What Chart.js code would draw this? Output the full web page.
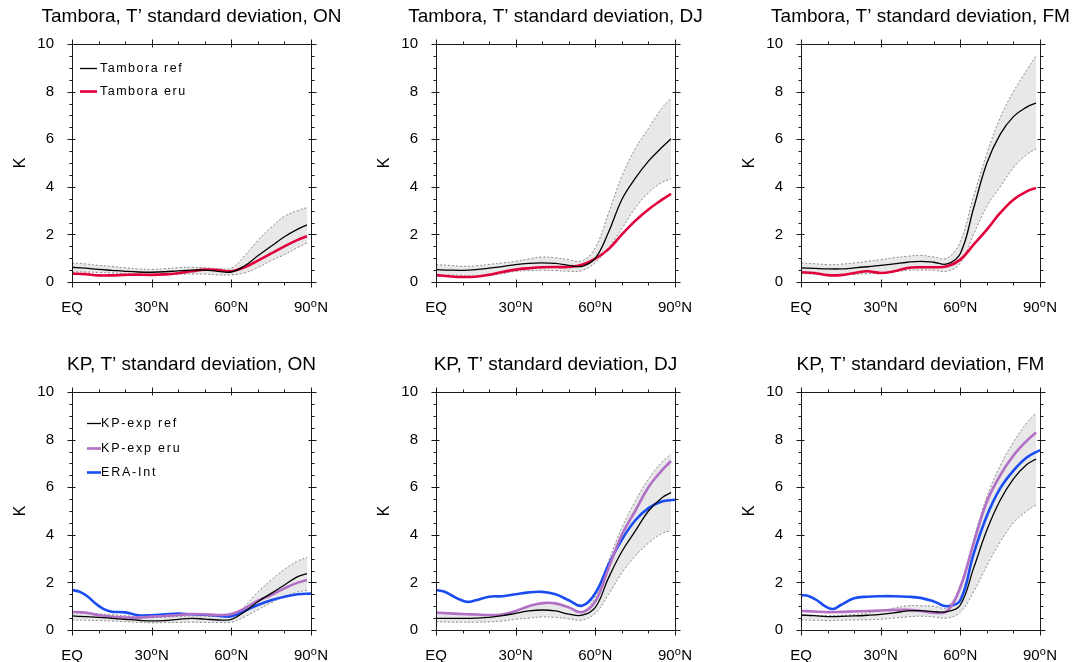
<!DOCTYPE html>
<html>
<head>
<meta charset="utf-8">
<script src="https://cdn.jsdelivr.net/npm/chart.js@4/dist/chart.umd.min.js"></script>
<style>
  html, body { margin: 0; padding: 0; background: #fff; overflow: hidden; width: 1089px; height: 662px; }
  canvas { position: absolute; }
</style>
</head>
<body>
<canvas id="p0" width="363" height="330" style="left:0px;top:0px"></canvas>
<canvas id="p1" width="363" height="330" style="left:364px;top:0px"></canvas>
<canvas id="p2" width="363" height="330" style="left:729px;top:0px"></canvas>
<canvas id="p3" width="363" height="330" style="left:0px;top:348px"></canvas>
<canvas id="p4" width="363" height="330" style="left:364px;top:348px"></canvas>
<canvas id="p5" width="363" height="330" style="left:729px;top:348px"></canvas>
<script>
// Latitude grids (degrees N)
const latModel = [0, 5, 10, 15, 20, 25, 30, 35, 40, 45, 50, 55, 60, 65, 70, 75, 80, 85, 88.5];
const latEra   = [0, 3, 6, 9, 12, 15, 20, 25, 30, 35, 40, 45, 50, 55, 60, 65, 70, 75, 80, 85, 90];

// Tambora, ON
const tamOnRef = [0.62,0.58,0.53,0.49,0.45,0.42,0.41,0.43,0.47,0.50,0.50,0.45,0.42,0.68,1.10,1.50,1.90,2.22,2.40];
const tamOnEru = [0.35,0.33,0.28,0.28,0.30,0.31,0.30,0.32,0.37,0.45,0.52,0.50,0.45,0.62,0.90,1.20,1.50,1.77,1.92];
const tamOnHi  = [0.80,0.76,0.70,0.65,0.60,0.55,0.53,0.56,0.60,0.62,0.60,0.56,0.58,1.10,1.75,2.30,2.76,3.00,3.13];
const tamOnLo  = [0.43,0.42,0.40,0.38,0.35,0.32,0.30,0.32,0.33,0.33,0.33,0.30,0.30,0.38,0.60,0.90,1.15,1.45,1.64];

// Tambora, DJ
const tamDjRef = [0.52,0.50,0.49,0.52,0.58,0.65,0.73,0.78,0.80,0.78,0.70,0.66,1.00,2.10,3.47,4.35,5.08,5.65,6.02];
const tamDjEru = [0.29,0.24,0.21,0.22,0.30,0.42,0.52,0.58,0.62,0.63,0.63,0.72,0.98,1.38,2.00,2.57,3.05,3.45,3.70];
const tamDjHi  = [0.73,0.70,0.66,0.68,0.74,0.80,0.87,0.97,1.05,1.02,0.94,0.88,1.45,2.90,4.45,5.60,6.45,7.30,7.72];
const tamDjLo  = [0.31,0.29,0.27,0.26,0.28,0.35,0.45,0.48,0.49,0.48,0.45,0.48,0.82,1.45,2.25,3.10,3.75,4.18,4.33];

// Tambora, FM
const tamFmRef = [0.59,0.57,0.55,0.55,0.59,0.64,0.70,0.76,0.83,0.87,0.83,0.76,1.20,3.10,5.00,6.20,6.95,7.35,7.52];
const tamFmEru = [0.41,0.38,0.29,0.29,0.38,0.45,0.38,0.45,0.59,0.62,0.62,0.66,0.94,1.57,2.20,2.90,3.46,3.81,3.95];
const tamFmHi  = [0.80,0.77,0.73,0.75,0.80,0.87,0.94,1.02,1.08,1.12,1.05,1.00,1.70,3.60,5.40,6.90,8.00,8.90,9.50];
const tamFmLo  = [0.35,0.33,0.30,0.30,0.32,0.35,0.38,0.43,0.49,0.50,0.49,0.45,0.80,2.00,3.18,4.00,4.80,5.35,5.60];

// KP, ON
const kpOnRef = [0.59,0.56,0.53,0.49,0.45,0.41,0.38,0.40,0.45,0.49,0.46,0.42,0.45,0.77,1.19,1.54,1.89,2.24,2.37];
const kpOnEru = [0.77,0.73,0.63,0.56,0.52,0.52,0.56,0.59,0.63,0.67,0.66,0.63,0.67,0.91,1.23,1.47,1.75,1.99,2.10];
const kpOnHi  = [0.72,0.70,0.68,0.64,0.60,0.55,0.52,0.54,0.57,0.59,0.58,0.56,0.55,1.00,1.60,2.10,2.55,2.90,3.05];
const kpOnLo  = [0.42,0.41,0.40,0.38,0.35,0.32,0.30,0.31,0.32,0.33,0.32,0.32,0.33,0.55,0.85,1.15,1.40,1.60,1.66];
const kpOnEra = [1.68,1.60,1.40,1.10,0.88,0.77,0.74,0.62,0.62,0.66,0.69,0.66,0.64,0.60,0.58,0.80,1.05,1.25,1.40,1.50,1.53];

// KP, DJ
const kpDjRef = [0.49,0.49,0.49,0.50,0.53,0.60,0.70,0.80,0.84,0.80,0.67,0.62,0.95,2.20,3.30,4.15,5.00,5.55,5.77];
const kpDjEru = [0.73,0.70,0.67,0.65,0.63,0.65,0.80,1.00,1.13,1.12,0.95,0.75,1.20,2.60,4.00,5.00,6.00,6.70,7.10];
const kpDjHi  = [0.72,0.70,0.68,0.66,0.65,0.68,0.80,1.00,1.10,1.10,0.95,0.78,1.40,2.90,4.30,5.40,6.35,7.05,7.40];
const kpDjLo  = [0.35,0.33,0.33,0.33,0.34,0.38,0.45,0.50,0.55,0.53,0.47,0.42,0.70,1.50,2.40,3.10,3.65,4.05,4.17];
const kpDjEra = [1.68,1.62,1.45,1.28,1.18,1.25,1.40,1.42,1.50,1.58,1.60,1.50,1.25,1.02,1.55,2.75,3.80,4.60,5.12,5.40,5.47];

// KP, FM
const kpFmRef = [0.63,0.60,0.56,0.57,0.59,0.62,0.66,0.72,0.80,0.81,0.77,0.77,1.05,2.60,4.20,5.45,6.35,6.95,7.18];
const kpFmEru = [0.80,0.78,0.75,0.76,0.78,0.80,0.82,0.84,0.85,0.80,0.73,0.80,1.80,3.65,5.40,6.50,7.33,7.95,8.30];
const kpFmHi  = [0.62,0.61,0.60,0.62,0.65,0.72,0.80,0.92,1.02,1.02,1.00,0.95,1.90,3.80,5.60,6.90,7.90,8.70,9.12];
const kpFmLo  = [0.42,0.41,0.40,0.41,0.42,0.43,0.45,0.50,0.55,0.58,0.55,0.50,0.75,1.60,2.70,3.70,4.50,5.00,5.25];
const kpFmEra = [1.47,1.42,1.25,1.00,0.88,1.05,1.33,1.40,1.42,1.42,1.40,1.35,1.20,1.00,1.25,3.20,4.80,5.95,6.70,7.25,7.56];

// Axis settings
const latMin = 0, latMax = 90, latMajor = 30, latMinor = 10;
const kMin = 0, kMax = 10, kMajor = 2, kMinor = 0.5;

const FONT = "'Liberation Sans', Arial, Helvetica, 'DejaVu Sans', sans-serif";
const COL_REF = '#000000';
const COL_TAM_ERU = '#e2003c';
const COL_KP_ERU = '#b26fc6';
const COL_ERA = '#1a4cf2';
const COL_BAND = '#e8e8e8';
const COL_BAND_EDGE = '#8a8a8a';

function pts(lat, vals) { return vals.map((v, i) => ({ x: lat[i], y: v })); }

function lineSet(label, lat, vals, color, width) {
  return { label, data: pts(lat, vals), borderColor: color, borderWidth: width,
           pointRadius: 0, fill: false, tension: 0.4 };
}
function bandEdge(lat, vals, fill) {
  return { label: '', data: pts(lat, vals), borderColor: COL_BAND_EDGE, borderWidth: 1,
           borderDash: [2, 2], pointRadius: 0, fill: fill, backgroundColor: COL_BAND,
           tension: 0.4 };
}

// Box frame with tick marks on all four sides, plus latitude labels and panel title
const frame = {
  id: 'frame',
  afterDraw(chart, args, opts) {
    const { ctx, chartArea: a, scales: { x, y } } = chart;
    const L = Math.round(a.left) + 0.5, R = Math.round(a.right) + 0.5;
    const T = Math.round(a.top) + 0.5, B = Math.round(a.bottom) + 0.5;
    ctx.save();
    ctx.strokeStyle = '#1a1a1a';
    ctx.lineWidth = 1;
    ctx.strokeRect(L, T, R - L, B - T);
    ctx.beginPath();
    for (let v = latMin; v <= latMax + 1e-6; v += latMinor) {
      const px = Math.round(x.getPixelForValue(v)) + 0.5;
      const major = Math.abs(v % latMajor) < 1e-6;
      const out = major ? 5 : 3, inn = major ? 3 : 0;
      ctx.moveTo(px, B + out); ctx.lineTo(px, B - inn);
      ctx.moveTo(px, T - out); ctx.lineTo(px, T + inn);
    }
    for (let v = kMin; v <= kMax + 1e-6; v += kMinor) {
      const py = Math.round(y.getPixelForValue(v)) + 0.5;
      const major = Math.abs(v % kMajor) < 1e-6;
      const out = major ? 5 : 3, inn = major ? 3 : 0;
      ctx.moveTo(L - out, py); ctx.lineTo(L + inn, py);
      ctx.moveTo(R + out, py); ctx.lineTo(R - inn, py);
    }
    ctx.stroke();

    // latitude labels: EQ, 30°N ... with a raised small "o"
    ctx.fillStyle = '#000';
    ctx.textBaseline = 'alphabetic';
    ctx.textAlign = 'left';
    const big = '15px ' + FONT, small = '11px ' + FONT;
    const base = a.bottom + 30;
    x.ticks.forEach(t => {
      const px = x.getPixelForValue(t.value);
      if (t.value === 0) {
        ctx.font = big;
        const w = ctx.measureText('EQ').width;
        ctx.fillText('EQ', px - w / 2, base);
        return;
      }
      const num = String(t.value);
      ctx.font = big;
      const wNum = ctx.measureText(num).width, wN = ctx.measureText('N').width;
      ctx.font = small;
      const wO = ctx.measureText('o').width + 0.6;
      let cx = px - (wNum + wO + wN) / 2;
      ctx.font = big; ctx.fillText(num, cx, base); cx += wNum;
      ctx.font = small; ctx.fillText('o', cx + 0.2, base - 5.4); cx += wO;
      ctx.font = big; ctx.fillText('N', cx, base);
    });

    // panel title centred over the plot box
    ctx.font = opts.titleSize + 'px ' + FONT;
    ctx.textAlign = 'center';
    ctx.textBaseline = 'middle';
    ctx.fillText(opts.title, (a.left + a.right) / 2, a.top - opts.titleGap);
    ctx.restore();
  }
};

// Legend drawn inside the plot box
const insetLegend = {
  id: 'insetLegend',
  afterDraw(chart, args, opts) {
    if (!opts || !opts.items) return;
    const { ctx, chartArea: a } = chart;
    ctx.save();
    ctx.font = opts.size + 'px ' + FONT;
    ctx.letterSpacing = opts.spacing + 'px';
    ctx.textBaseline = 'middle';
    ctx.textAlign = 'left';
    opts.items.forEach((di, k) => {
      const ds = chart.data.datasets[di];
      const yy = Math.round(a.top + opts.y + k * opts.gap) + 0.5;
      ctx.strokeStyle = ds.borderColor;
      ctx.lineWidth = ds.borderWidth;
      ctx.beginPath();
      ctx.moveTo(a.left + opts.x0, yy);
      ctx.lineTo(a.left + opts.x1, yy);
      ctx.stroke();
      ctx.fillStyle = '#000';
      ctx.fillText(ds.label, a.left + opts.tx, yy + 0.5);
    });
    ctx.restore();
  }
};

const legendTam = { items: [0, 1], x0: 8, x1: 25, tx: 28, y: 23.7, gap: 23, size: 12.5, spacing: 1.5 };
const legendKp  = { items: [0, 1, 2], x0: 15, x1: 29, tx: 29, y: 30.7, gap: 24.8, size: 12.5, spacing: 1.8 };

const panels = [
  { id: 'p0', title: 'Tambora, T’ standard deviation, ON',
    sets: [lineSet('Tambora ref', latModel, tamOnRef, COL_REF, 1.3), lineSet('Tambora eru', latModel, tamOnEru, COL_TAM_ERU, 2.6),
           bandEdge(latModel, tamOnHi, '+1'), bandEdge(latModel, tamOnLo, false)], legend: legendTam },
  { id: 'p1', title: 'Tambora, T’ standard deviation, DJ',
    sets: [lineSet('Tambora ref', latModel, tamDjRef, COL_REF, 1.3), lineSet('Tambora eru', latModel, tamDjEru, COL_TAM_ERU, 2.6),
           bandEdge(latModel, tamDjHi, '+1'), bandEdge(latModel, tamDjLo, false)] },
  { id: 'p2', title: 'Tambora, T’ standard deviation, FM',
    sets: [lineSet('Tambora ref', latModel, tamFmRef, COL_REF, 1.3), lineSet('Tambora eru', latModel, tamFmEru, COL_TAM_ERU, 2.6),
           bandEdge(latModel, tamFmHi, '+1'), bandEdge(latModel, tamFmLo, false)] },
  { id: 'p3', title: 'KP, T’ standard deviation, ON',
    sets: [lineSet('KP-exp ref', latModel, kpOnRef, COL_REF, 1.3), lineSet('KP-exp eru', latModel, kpOnEru, COL_KP_ERU, 2.6),
           lineSet('ERA-Int', latEra, kpOnEra, COL_ERA, 2.6),
           bandEdge(latModel, kpOnHi, '+1'), bandEdge(latModel, kpOnLo, false)], legend: legendKp },
  { id: 'p4', title: 'KP, T’ standard deviation, DJ',
    sets: [lineSet('KP-exp ref', latModel, kpDjRef, COL_REF, 1.3), lineSet('KP-exp eru', latModel, kpDjEru, COL_KP_ERU, 2.6),
           lineSet('ERA-Int', latEra, kpDjEra, COL_ERA, 2.6),
           bandEdge(latModel, kpDjHi, '+1'), bandEdge(latModel, kpDjLo, false)] },
  { id: 'p5', title: 'KP, T’ standard deviation, FM',
    sets: [lineSet('KP-exp ref', latModel, kpFmRef, COL_REF, 1.3), lineSet('KP-exp eru', latModel, kpFmEru, COL_KP_ERU, 2.6),
           lineSet('ERA-Int', latEra, kpFmEra, COL_ERA, 2.6),
           bandEdge(latModel, kpFmHi, '+1'), bandEdge(latModel, kpFmLo, false)] }
];

panels.forEach(p => {
  new Chart(document.getElementById(p.id), {
    type: 'line',
    data: { datasets: p.sets },
    plugins: [frame, insetLegend],
    options: {
      responsive: false,
      animation: false,
      events: [],
      layout: { padding: { left: 11, right: 52, top: 44, bottom: 8 } },
      plugins: {
        legend: { display: false },
        tooltip: { enabled: false },
        filler: { drawTime: 'beforeDatasetsDraw' },
        frame: { title: p.title, titleSize: 19, titleGap: 27.6 },
        insetLegend: p.legend || {}
      },
      scales: {
        x: {
          type: 'linear', min: latMin, max: latMax,
          grid: { display: false, drawTicks: false }, border: { display: false },
          ticks: { stepSize: latMajor, display: false, autoSkip: false, maxRotation: 0 },
          afterFit: s => { s.height = 40; }
        },
        y: {
          min: kMin, max: kMax,
          grid: { display: false, drawTicks: false }, border: { display: false },
          ticks: { stepSize: kMajor, padding: 18, color: '#000', font: { family: FONT, size: 15 } },
          title: { display: true, text: 'K', color: '#000', font: { family: FONT, size: 16 }, padding: 0 },
          afterFit: s => { s.width = 61; }
        }
      }
    }
  });
});
</script>
</body>
</html>
